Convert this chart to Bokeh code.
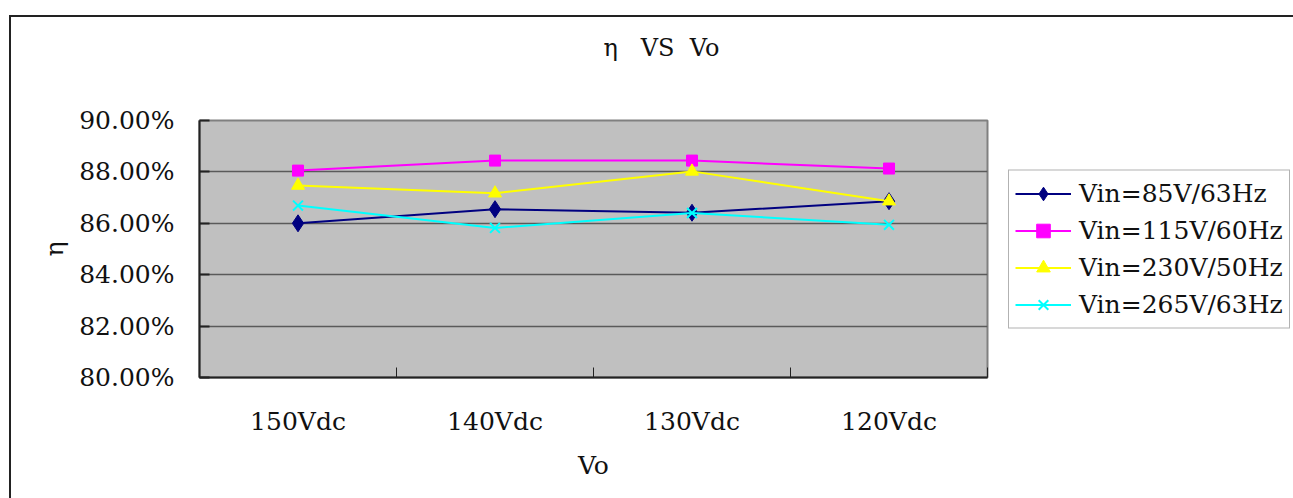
from bokeh.plotting import figure
from bokeh.models import (Legend, LegendItem, FixedTicker, PrintfTickFormatter,
                          Range1d)
from bokeh.embed import file_html
from bokeh.resources import INLINE

categories = ["150Vdc", "140Vdc", "130Vdc", "120Vdc"]
eta_85 = [86.00, 86.55, 86.41, 86.86]
eta_115 = [88.05, 88.44, 88.44, 88.13]
eta_230 = [87.47, 87.17, 88.02, 86.86]
eta_265 = [86.69, 85.82, 86.40, 85.94]
series_names = ["Vin=85V/63Hz", "Vin=115V/60Hz", "Vin=230V/50Hz", "Vin=265V/63Hz"]
y_ticks = [80, 82, 84, 86, 88, 90]

FONT = "DejaVu Serif"
xs = [i + 0.5 for i in range(len(categories))]

OX, OY, BW = 9, 15, 2   # outer chart-area border offset and width
LEFT = 199 - OX - BW
TOP = 120 - OY - BW
FW, FH = 788, 257
RIGHT = 1293 - OX - BW - LEFT - FW
BOTTOM = 498 - OY - BW - TOP - FH

p = figure(frame_width=FW, frame_height=FH,
           output_backend="svg", toolbar_location=None,
           x_range=Range1d(0, len(categories)), y_range=Range1d(80, 90),
           min_border_left=LEFT, min_border_right=RIGHT,
           min_border_top=TOP, min_border_bottom=BOTTOM,
           background_fill_color="#C0C0C0",
           border_fill_color="white", outline_line_color="#808080",
           outline_line_width=2)
p.styles = {"margin-left": f"{OX}px", "margin-top": f"{OY}px",
            "border-left": f"{BW}px solid #222222",
            "border-top": f"{BW}px solid #222222"}

# title (blank extra lines lift it towards the top of the chart area)
NB = "\u00a0"
p.title.text = f"η{NB * 3}VS{NB * 2}Vo\n{NB}\n{NB}"
p.title.align = "left"
p.title.vertical_align = "top"
p.title.offset = 404
p.title.standoff = 2
p.title.text_font = FONT
p.title.text_font_size = "24px"
p.title.text_font_style = "normal"
p.title.text_color = "#111111"

# axes
xa = p.xaxis[0]
xa.ticker = FixedTicker(ticks=xs, minor_ticks=list(range(0, len(categories) + 1)))
xa.major_label_overrides = {x: c for x, c in zip(xs, categories)}
xa.major_tick_in = 0
xa.major_tick_out = 0
xa.minor_tick_in = 10
xa.minor_tick_out = 0
xa.minor_tick_line_color = "#222222"
xa.axis_line_color = "#222222"
xa.axis_line_width = 2
xa.major_label_standoff = 29
xa.major_label_text_font = FONT
xa.major_label_text_font_size = "25px"
xa.major_label_text_color = "#111111"
xa.axis_label = "Vo"
xa.axis_label_text_font = FONT
xa.axis_label_text_font_size = "25px"
xa.axis_label_text_font_style = "normal"
xa.axis_label_text_color = "#111111"
xa.axis_label_standoff = 12

ya = p.yaxis[0]
ya.ticker = FixedTicker(ticks=y_ticks)
ya.formatter = PrintfTickFormatter(format="%.2f%%")
ya.major_tick_in = 10
ya.major_tick_out = 0
ya.major_tick_line_color = "#222222"
ya.major_tick_line_width = 2
ya.minor_tick_line_color = None
ya.axis_line_color = "#222222"
ya.axis_line_width = 2
ya.major_label_standoff = 25
ya.major_label_text_font = FONT
ya.major_label_text_font_size = "25px"
ya.major_label_text_color = "#111111"
ya.axis_label = "η"
ya.axis_label_text_font = FONT
ya.axis_label_text_font_size = "25px"
ya.axis_label_text_font_style = "normal"
ya.axis_label_text_color = "#111111"
ya.axis_label_standoff = 7

p.xgrid.grid_line_color = None
p.ygrid.grid_line_color = "#5a5a5a"
p.ygrid.grid_line_width = 1.5

# series
items = []
l1 = p.line(xs, eta_85, line_color="#000080", line_width=2)
m1 = p.scatter(xs, eta_85, marker="diamond", size=17,
               fill_color="#000080", line_color="#000080")
items.append(LegendItem(label=series_names[0], renderers=[l1, m1]))

l2 = p.line(xs, eta_115, line_color="#FF00FF", line_width=2)
m2 = p.scatter(xs, eta_115, marker="square", size=11,
               fill_color="#FF00FF", line_color="#FF00FF")
items.append(LegendItem(label=series_names[1], renderers=[l2, m2]))

l3 = p.line(xs, eta_230, line_color="#FFFF00", line_width=2)
m3 = p.scatter(xs, eta_230, marker="triangle", size=13,
               fill_color="#FFFF00", line_color="#FFFF00")
items.append(LegendItem(label=series_names[2], renderers=[l3, m3]))

l4 = p.line(xs, eta_265, line_color="#00FFFF", line_width=2)
m4 = p.scatter(xs, eta_265, marker="x", size=14, line_width=2,
               line_color="#00FFFF")
items.append(LegendItem(label=series_names[3], renderers=[l4, m4]))

legend = Legend(items=items, location="center_left", orientation="vertical",
                glyph_width=56, glyph_height=34, label_height=34,
                label_standoff=8, spacing=3, padding=6, margin=21,
                label_text_font=FONT, label_text_font_size="25px",
                label_text_color="#111111",
                border_line_color="#666666", border_line_width=1.5,
                background_fill_color="white", background_fill_alpha=1)
p.add_layout(legend, "right")

open("out.html", "w").write(file_html(p, INLINE))
